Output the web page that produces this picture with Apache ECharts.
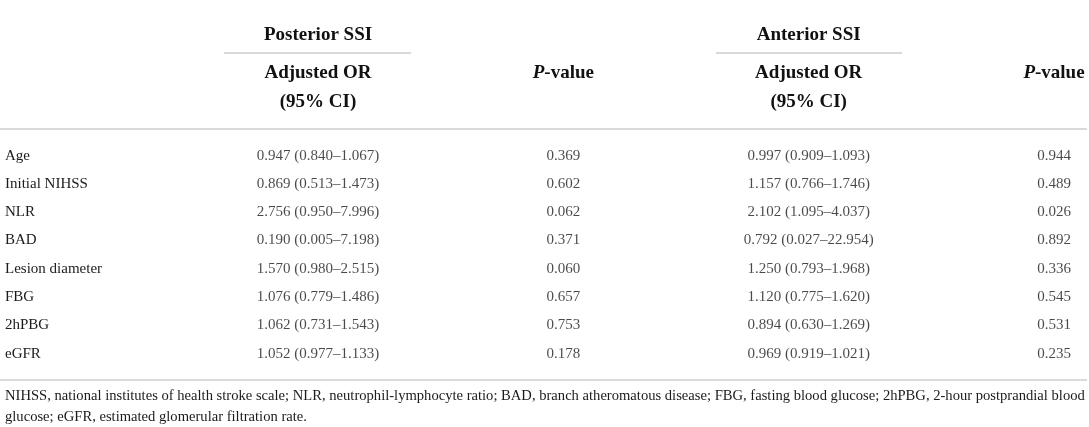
<!DOCTYPE html>
<html style="height: 100%">
<head>
    <meta charset="utf-8">
    <title>Adjusted OR table</title>
</head>
<body style="height: 100%; margin: 0; background: #fff">
<div id="container" style="width: 1089px; height: 427px"></div>
<script type="text/javascript" src="https://cdn.jsdelivr.net/npm/echarts@6/dist/echarts.min.js"></script>
<script type="text/javascript">
    // table content
    var variables = ['Age', 'Initial NIHSS', 'NLR', 'BAD', 'Lesion diameter', 'FBG', '2hPBG', 'eGFR'];
    var columns = ['postOR', 'postP', 'antOR', 'antP'];
    var groupHeaders = ['Posterior SSI', '', 'Anterior SSI', ''];

    var postOR   = [0.947, 0.869, 2.756, 0.190, 1.570, 1.076, 1.062, 1.052];
    var postLow  = [0.840, 0.513, 0.950, 0.005, 0.980, 0.779, 0.731, 0.977];
    var postHigh = [1.067, 1.473, 7.996, 7.198, 2.515, 1.486, 1.543, 1.133];
    var postP    = [0.369, 0.602, 0.062, 0.371, 0.060, 0.657, 0.753, 0.178];

    var antOR    = [0.997, 1.157, 2.102, 0.792, 1.250, 1.120, 0.894, 0.969];
    var antLow   = [0.909, 0.766, 1.095, 0.027, 0.793, 0.775, 0.630, 0.919];
    var antHigh  = [1.093, 1.746, 4.037, 22.954, 1.968, 1.620, 1.269, 1.021];
    var antP     = [0.944, 0.489, 0.026, 0.892, 0.336, 0.545, 0.531, 0.235];

    var footnote = [
        'NIHSS, national institutes of health stroke scale; NLR, neutrophil-lymphocyte ratio; BAD, branch atheromatous disease; FBG, fasting blood glucose; 2hPBG, 2-hour postprandial blood',
        'glucose; eGFR, estimated glomerular filtration rate.'
    ];

    var serif = '"Liberation Serif", "DejaVu Serif", serif';
    var ink = '#1b1b1b';
    var rule = '#cdcdcd';

    function f3(v) { return v.toFixed(3); }
    function orText(or, lo, hi, i) {
        return f3(or[i]) + ' (' + f3(lo[i]) + '\u2013' + f3(hi[i]) + ')';
    }

    var cellText = {
        postOR: function (i) { return orText(postOR, postLow, postHigh, i); },
        postP: function (i) { return f3(postP[i]); },
        antOR: function (i) { return orText(antOR, antLow, antHigh, i); },
        antP: function (i) { return f3(antP[i]); }
    };

    var headerLabels = {
        postOR: '{h|Adjusted OR}\n{h|(95% CI)}',
        postP: '{pi|P}{h|-value}',
        antOR: '{h|Adjusted OR}\n{h|(95% CI)}',
        antP: '{pi|P}{h|-value}'
    };

    var dom = document.getElementById("container");
    var myChart = echarts.init(dom);

    var series = columns.map(function (col, c) {
        return {
            name: col,
            type: 'scatter',
            xAxisIndex: 0,
            yAxisIndex: 0,
            symbolSize: 1,
            itemStyle: { color: 'rgba(0,0,0,0)' },
            silent: true,
            data: variables.map(function (v, i) { return [c, i]; }),
            label: {
                show: true,
                position: 'inside',
                color: ink,
                fontFamily: serif,
                fontSize: 15,
                formatter: function (p) { return cellText[col](p.dataIndex); }
            }
        };
    });

    var option = {
        animation: false,
        backgroundColor: '#fff',
        grid: { left: 318, right: 35, top: 141.5, height: 226.4 },
        xAxis: [{
            type: 'category',
            position: 'top',
            data: columns,
            boundaryGap: false,
            axisLine: { show: false },
            axisTick: { show: false },
            splitLine: { show: false },
            axisLabel: {
                interval: 0,
                margin: 83,
                verticalAlign: 'top',
                align: 'center',
                lineHeight: 29,
                formatter: function (v) { return headerLabels[v]; },
                rich: {
                    h: { fontFamily: serif, fontSize: 19, fontWeight: 'bold', color: '#111', lineHeight: 29 },
                    pi: { fontFamily: serif, fontSize: 19, fontWeight: 'bold', fontStyle: 'italic', color: '#111', lineHeight: 29 }
                }
            }
        }, {
            type: 'category',
            position: 'top',
            data: groupHeaders,
            boundaryGap: false,
            axisLine: { show: false },
            axisTick: { show: false },
            splitLine: { show: false },
            axisLabel: {
                interval: 0,
                margin: 106.5,
                verticalAlign: 'middle',
                fontFamily: serif,
                fontSize: 19,
                fontWeight: 'bold',
                color: '#111'
            }
        }],
        yAxis: {
            type: 'category',
            data: variables,
            inverse: true,
            axisLine: { show: false },
            axisTick: { show: false },
            splitLine: { show: false },
            axisLabel: {
                interval: 0,
                align: 'left',
                margin: 313,
                fontFamily: serif,
                fontSize: 15,
                color: ink
            }
        },
        series: series,
        graphic: [
            { type: 'line', shape: { x1: 224, y1: 53, x2: 411, y2: 53 }, style: { stroke: rule, lineWidth: 1.5 } },
            { type: 'line', shape: { x1: 716, y1: 53, x2: 902, y2: 53 }, style: { stroke: rule, lineWidth: 1.5 } },
            { type: 'line', shape: { x1: 0, y1: 129, x2: 1087, y2: 129 }, style: { stroke: rule, lineWidth: 1.5 } },
            { type: 'line', shape: { x1: 0, y1: 380, x2: 1087, y2: 380 }, style: { stroke: rule, lineWidth: 1.5 } },
            { type: 'text', left: 5, top: 389, style: { text: footnote[0], fill: ink, font: '14.6px ' + serif } },
            { type: 'text', left: 5, top: 410, style: { text: footnote[1], fill: ink, font: '14.6px ' + serif } }
        ]
    };

    if (option && typeof option === "object") {
        myChart.setOption(option, true);
    }
</script>
</body>
</html>
